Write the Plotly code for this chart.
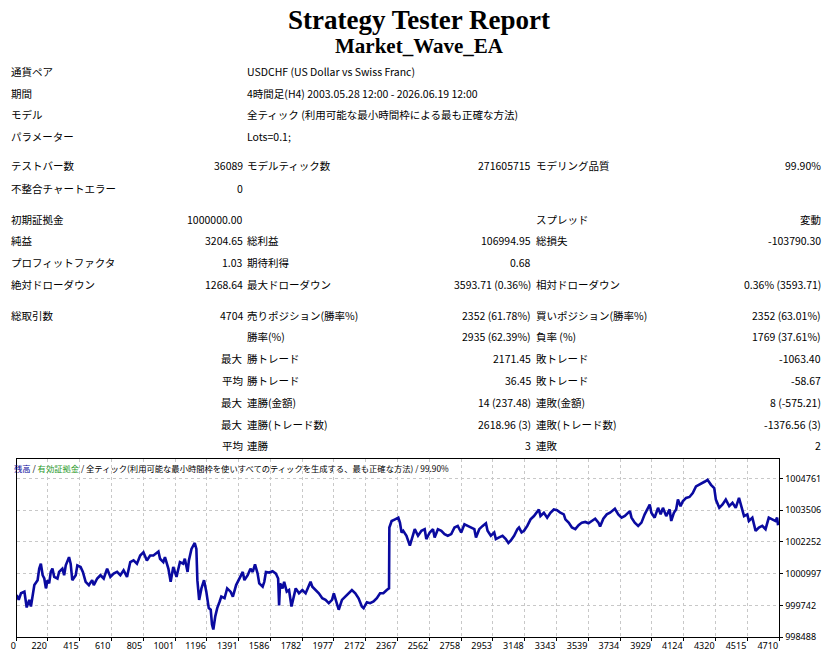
import plotly.graph_objects as go

W, H = 832, 664

# ---- report header ----
title_main = "Strategy Tester Report"
title_ea = "Market_Wave_EA"

info_labels = ["通貨ペア", "期間", "モデル", "パラメーター"]
info_values = [
    "USDCHF (US Dollar vs Swiss Franc)",
    "4時間足(H4) 2003.05.28 12:00 - 2026.06.19 12:00",
    "全ティック (利用可能な最小時間枠による最も正確な方法)",
    "Lots=0.1;",
]

# ---- statistics table (6 cells per row) ----
stat_rows = [
    ["テストバー数", "36089", "モデルティック数", "271605715", "モデリング品質", "99.90%"],
    ["不整合チャートエラー", "0", "", "", "", ""],
    ["初期証拠金", "1000000.00", "", "", "スプレッド", "変動"],
    ["純益", "3204.65", "総利益", "106994.95", "総損失", "-103790.30"],
    ["プロフィットファクタ", "1.03", "期待利得", "0.68", "", ""],
    ["絶対ドローダウン", "1268.64", "最大ドローダウン", "3593.71 (0.36%)", "相対ドローダウン", "0.36% (3593.71)"],
    ["総取引数", "4704", "売りポジション(勝率%)", "2352 (61.78%)", "買いポジション(勝率%)", "2352 (63.01%)"],
    ["", "", "勝率(%)", "2935 (62.39%)", "負率 (%)", "1769 (37.61%)"],
    ["", "最大", "勝トレード", "2171.45", "敗トレード", "-1063.40"],
    ["", "平均", "勝トレード", "36.45", "敗トレード", "-58.67"],
    ["", "最大", "連勝(金額)", "14 (237.48)", "連敗(金額)", "8 (-575.21)"],
    ["", "最大", "連勝(トレード数)", "2618.96 (3)", "連敗(トレード数)", "-1376.56 (3)"],
    ["", "平均", "連勝", "3", "連敗", "2"],
]

# ---- balance curve (trade number, balance) ----
trade_no = [
    29, 41, 55, 76, 90, 106, 116, 127, 137, 157, 167, 177, 188, 198, 208, 218, 228, 238, 248, 259,
    279, 289, 309, 320, 330, 350, 360, 370, 391, 401, 421, 435, 452, 472, 492, 502, 523, 543, 563, 584,
    604, 624, 645, 665, 685, 706, 726, 746, 767, 787, 807, 828, 848, 868, 899, 909, 929, 939, 960, 974,
    990, 1010, 1021, 1031, 1051, 1061, 1078, 1086, 1102, 1112, 1122, 1132, 1138, 1149, 1163, 1179, 1193, 1208, 1220, 1228,
    1236, 1248, 1260, 1275, 1285, 1305, 1321, 1342, 1356, 1376, 1397, 1417, 1427, 1447, 1464, 1478, 1492, 1508, 1518, 1539,
    1549, 1559, 1579, 1600, 1620, 1634, 1640, 1646, 1661, 1671, 1687, 1701, 1716, 1728, 1742, 1762, 1783, 1803, 1817, 1833,
    1844, 1864, 1884, 1905, 1925, 1945, 1965, 1976, 1990, 2006, 2026, 2047, 2067, 2087, 2108, 2128, 2148, 2159, 2179, 2199,
    2220, 2240, 2260, 2280, 2301, 2315, 2317, 2331, 2352, 2372, 2382, 2392, 2402, 2422, 2443, 2453, 2473, 2493, 2514, 2534,
    2544, 2565, 2585, 2595, 2615, 2636, 2656, 2676, 2697, 2717, 2737, 2758, 2778, 2798, 2819, 2839, 2849, 2869, 2890, 2910,
    2920, 2940, 2961, 2971, 2991, 3012, 3032, 3048, 3062, 3083, 3103, 3113, 3129, 3144, 3164, 3184, 3205, 3225, 3235, 3245,
    3266, 3286, 3306, 3327, 3347, 3367, 3388, 3398, 3418, 3438, 3459, 3479, 3499, 3520, 3540, 3560, 3581, 3601, 3611, 3631,
    3652, 3672, 3702, 3723, 3743, 3763, 3784, 3794, 3804, 3824, 3845, 3865, 3885, 3906, 3916, 3926, 3946, 3967, 3983, 3997,
    4017, 4038, 4048, 4064, 4078, 4089, 4105, 4119, 4139, 4160, 4180, 4200, 4221, 4241, 4255, 4271, 4292, 4312, 4322, 4343,
    4363, 4383, 4404, 4424, 4444, 4464, 4485, 4495, 4515, 4525, 4546, 4566, 4586, 4607, 4627, 4647, 4668, 4688, 4698, 4704,
]
balance = [
    1000158, 999963, 1000223, 1000288, 999664, 999963, 999703, 1000158, 1000548, 1000743,
    1001198, 1001393, 1000938, 1000808, 1000418, 1000743, 1000613, 1001068, 1001198, 1000873,
    1000808, 1001068, 1001198, 1000938, 1001328, 1001653, 1001393, 1000743, 1000938, 1001328,
    1001263, 1001068, 1000678, 1000548, 1000743, 1000548, 1000808, 1000938, 1000808, 1001198,
    1000873, 1001003, 1001068, 1000938, 1001133, 1000873, 1001458, 1001523, 1001393, 1001718,
    1001848, 1001523, 1001718, 1001718, 1001874, 1001588, 1001458, 1001653, 1001198, 1000678,
    1001263, 1000873, 1001198, 1001458, 1001393, 1001588, 1001068, 1001523, 1001978, 1002108,
    1002212, 1001978, 1000743, 999963, 1000418, 1000743, 1000288, 999638, 999573, 998988,
    998793, 999313, 999638, 999898, 1000093, 1000028, 1000418, 1000288, 1000093, 1000548,
    1000808, 1001068, 1000743, 1000938, 1001198, 1001068, 1001367, 1001003, 1000613, 1000483,
    1000678, 1001068, 1001042, 1001094, 1001003, 1000808, 999742, 1000613, 1000418, 1000678,
    1000288, 1000353, 999703, 1000093, 1000418, 1000223, 1000353, 1000223, 1000418, 1000678,
    1000483, 1000353, 1000223, 1000028, 999963, 999833, 999963, 1000223, 999898, 999573,
    999963, 1000093, 1000223, 1000353, 1000223, 1000028, 999703, 999638, 999872, 999833,
    999898, 1000028, 1000223, 1000223, 1000353, 1000418, 1002823, 1003083, 1003148, 1003213,
    1003018, 1002628, 1002693, 1002498, 1002108, 1002303, 1002758, 1002498, 1002693, 1002758,
    1002368, 1002628, 1002758, 1002433, 1002758, 1002693, 1002563, 1002498, 1002563, 1002823,
    1002888, 1002628, 1002953, 1002888, 1002823, 1002758, 1002433, 1002758, 1002888, 1002992,
    1002693, 1002498, 1002628, 1002368, 1002433, 1002498, 1002368, 1002212, 1002303, 1002498,
    1002758, 1002823, 1002628, 1002693, 1002888, 1003148, 1003278, 1003473, 1003538, 1003278,
    1003408, 1003213, 1003408, 1003538, 1003512, 1003408, 1003343, 1003148, 1003018, 1002823,
    1002758, 1002914, 1003018, 1003044, 1002992, 1003083, 1003174, 1003018, 1002862, 1003174,
    1003343, 1003408, 1003564, 1003343, 1003213, 1003278, 1003408, 1003473, 1003213, 1003018,
    1002888, 1003018, 1003343, 1003603, 1003733, 1003408, 1003213, 1003603, 1003343, 1003603,
    1003278, 1003538, 1003083, 1003408, 1003538, 1003928, 1003668, 1003863, 1003993, 1004032,
    1004188, 1004448, 1004513, 1004578, 1004643, 1004708, 1004513, 1004383, 1003928, 1003603,
    1003733, 1003928, 1003668, 1003798, 1003603, 1003993, 1003538, 1003278, 1003343, 1003083,
    1003213, 1002693, 1002823, 1002888, 1002758, 1003213, 1003148, 1003083, 1003213, 1002914,
]

x_tick_labels = [0, 220, 415, 610, 805, 1001, 1196, 1391, 1586, 1782, 1977, 2172, 2367,
                 2562, 2758, 2953, 3148, 3343, 3539, 3734, 3929, 4124, 4320, 4515, 4710]
y_tick_vals = [998488, 999742, 1000997, 1002252, 1003506, 1004761]

chart_header = ("<span style='color:#0a0a9a'>残高</span> / "
                "<span style='color:#2a9a2a'>有効証拠金</span> / "
                "全ティック(利用可能な最小時間枠を使いすべてのティックを生成する、最も正確な方法) / 99.90%")

TXT_FONT = "Noto Sans CJK JP"
x_min, x_max = 30, 4712
y_min, y_max = 998488, 1005540


def fx(p):
    return p / W


def fy(p):
    return 1 - p / H


def txt(x, y, s, anchor="left", size=10.5, color="#000000", family=TXT_FONT):
    # left-anchored annotations render a few px right of their anchor, pull them back
    if anchor == "left":
        x -= 6
    return dict(x=fx(x), y=fy(y), xref="paper", yref="paper", text=s, showarrow=False,
                xanchor=anchor, yanchor="middle", borderpad=0,
                font=dict(family=family, size=size, color=color))


annotations = [
    txt(416, 20, "<b>%s</b>" % title_main, "center", 27, family="Liberation Serif"),
    txt(416, 46, "<b>%s</b>" % title_ea, "center", 21, family="Liberation Serif"),
]

info_y = [72, 94, 116, 138]
for yy, lab, val in zip(info_y, info_labels, info_values):
    annotations.append(txt(10, yy, lab))
    annotations.append(txt(248, yy, val))

stat_y = [167, 190, 221, 243, 265, 287, 318, 340, 362, 384, 406, 428, 450]
col_x = [(10, "left"), (240, "right"), (248, "left"), (530, "right"), (539, "left"), (822, "right")]
for yy, row in zip(stat_y, stat_rows):
    for (xx, anc), cell in zip(col_x, row):
        if cell:
            annotations.append(txt(xx, yy, cell, anc))

annotations.append(txt(13, 472, chart_header, size=8.3))

fig = go.Figure()
fig.add_trace(go.Scatter(
    x=trade_no, y=balance, mode="lines",
    line=dict(color="#0a0aa0", width=2.6),
    hoverinfo="skip", showlegend=False,
))

axis_font = dict(family="Noto Sans", size=9, color="#000000")
fig.update_layout(
    width=W, height=H,
    margin=dict(l=0, r=0, t=0, b=0),
    paper_bgcolor="white", plot_bgcolor="white",
    annotations=annotations,
    xaxis=dict(
        domain=[fx(11), fx(779)], range=[x_min, x_max],
        tickvals=[x_min] + x_tick_labels[1:], ticktext=[str(v) for v in x_tick_labels],
        ticklabelposition="outside left",
        showgrid=True, gridcolor="#c8c8c8", griddash="3px,3px", gridwidth=1,
        showline=True, linecolor="#000000", linewidth=1, mirror=True,
        ticks="outside", ticklen=3, tickcolor="#000000",
        tickfont=axis_font, zeroline=False,
    ),
    yaxis=dict(
        domain=[1 - 643 / H, 1 - 463 / H], range=[y_min, y_max],
        side="right", tickvals=y_tick_vals, ticktext=[str(v) for v in y_tick_vals],
        showgrid=True, gridcolor="#c8c8c8", griddash="3px,3px", gridwidth=1,
        showline=True, linecolor="#000000", linewidth=1, mirror=True,
        ticks="outside", ticklen=3, tickcolor="#000000",
        tickfont=axis_font, zeroline=False,
    ),
)

# the page has a default body margin; drop it so the figure fills the window
fig.write_html(
    "out.html",
    config={"displayModeBar": False},
    post_script="document.body.style.margin='0';document.body.style.overflow='hidden';",
)
